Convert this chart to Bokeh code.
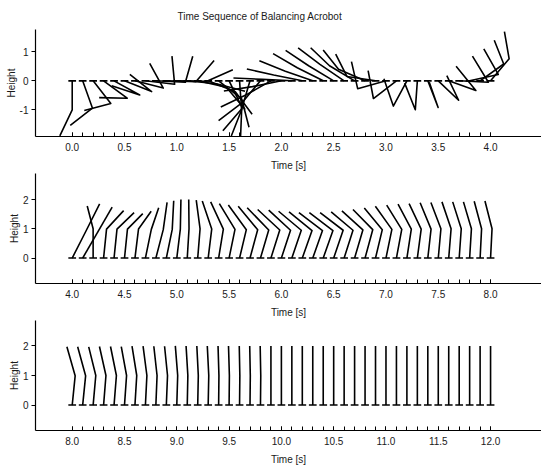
from bokeh.plotting import figure
from bokeh.layouts import column
from bokeh.models import FixedTicker, PrintfTickFormatter, Range1d
from bokeh.embed import file_html
from bokeh.resources import INLINE

# ---------------- data ----------------
# frame times (s)
t1 = [0.0, 0.1, 0.2, 0.3, 0.4, 0.5, 0.6, 0.7, 0.8, 0.9, 1.0, 1.1, 1.2, 1.3, 1.4, 1.5, 1.6, 1.7, 1.8, 1.9,
      2.0, 2.1, 2.2, 2.3, 2.4, 2.5, 2.6, 2.7, 2.8, 2.9, 3.0, 3.1, 3.2, 3.3, 3.4, 3.5, 3.6, 3.7, 3.8, 3.9, 4.0]
t2 = [4.0, 4.1, 4.2, 4.3, 4.4, 4.5, 4.6, 4.7, 4.8, 4.9, 5.0, 5.1, 5.2, 5.3, 5.4, 5.5, 5.6, 5.7, 5.8, 5.9,
      6.0, 6.1, 6.2, 6.3, 6.4, 6.5, 6.6, 6.7, 6.8, 6.9, 7.0, 7.1, 7.2, 7.3, 7.4, 7.5, 7.6, 7.7, 7.8, 7.9, 8.0]
t3 = [8.0, 8.1, 8.2, 8.3, 8.4, 8.5, 8.6, 8.7, 8.8, 8.9, 9.0, 9.1, 9.2, 9.3, 9.4, 9.5, 9.6, 9.7, 9.8, 9.9,
      10.0, 10.1, 10.2, 10.3, 10.4, 10.5, 10.6, 10.7, 10.8, 10.9, 11.0, 11.1, 11.2, 11.3, 11.4, 11.5, 11.6,
      11.7, 11.8, 11.9, 12.0]

# elbow / tip offsets from the pivot, in link lengths (horizontal, vertical)
elbow1_x = [0.00, 0.33, 0.60, 0.80, 0.87, 0.92, 0.96, 0.99, 1.00, 1.00, 1.00, 0.99, 0.97, 0.92, 0.78, 0.43,
            0.07, -0.28, -0.64, -0.87, -0.98, -1.00, -0.97, -0.93, -0.88, -0.85, -0.82, -0.85, -0.90, -0.97,
            -0.96, -0.78, -0.46, -0.07, 0.35, 0.69, 0.92, 0.99, 0.97, 0.80, 0.63]
elbow1_y = [-1.00, -0.94, -0.78, -0.60, -0.49, -0.37, -0.25, -0.12, -0.05, -0.03, -0.02, -0.10, -0.22, -0.38,
            -0.62, -0.90, -1.00, -0.96, -0.77, -0.50, -0.20, 0.05, 0.20, 0.33, 0.45, 0.52, 0.57, 0.52, 0.40,
            0.15, -0.27, -0.61, -0.87, -1.00, -0.92, -0.67, -0.33, -0.05, 0.22, 0.58, 0.76]
tip1_x = [-0.42, -0.42, -0.30, -0.15, -0.08, 0.18, 0.50, 0.90, 1.25, 1.62, 1.90, 1.96, 1.61, 1.49, 1.03, 0.39,
          -0.28, -0.92, -1.42, -1.70, -1.95, -1.98, -1.88, -1.81, -1.70, -1.63, -1.56, -1.49, -1.42, -1.35,
          -1.17, -0.96, -0.78, -0.43, 0.05, 0.29, 0.25, 0.45, 0.48, 0.48, 0.47]
tip1_y = [-1.90, -1.54, -1.02, -0.58, -0.17, 0.22, 0.60, 0.85, 0.85, 0.70, 0.38, -0.36, -0.99, -1.15, -1.60,
          -1.90, -1.90, -1.72, -1.37, -0.90, -0.35, 0.10, 0.41, 0.69, 0.94, 1.05, 1.14, 1.14, 1.06, 0.92,
          0.66, 0.35, 0.07, -0.08, -0.05, 0.18, 0.50, 0.85, 1.10, 1.40, 1.70]

elbow2_x = [0.45, 0.50, 0.00, 0.10, 0.10, 0.10, 0.12, 0.20, 0.25, 0.20, 0.12, 0.06, 0.08, 0.12, 0.16, 0.20,
            0.23, 0.26, 0.28, 0.30, 0.31, 0.32, 0.33, 0.33, 0.33, 0.32, 0.30, 0.28, 0.26, 0.23, 0.20, 0.18,
            0.15, 0.13, 0.11, 0.09, 0.08, 0.07, 0.06, 0.05, 0.05]
elbow2_y = [0.89, 0.87, 1.00, 0.99, 0.99, 0.99, 0.99, 0.98, 0.97, 0.98, 0.99, 1.00, 1.00, 0.99, 0.99, 0.98,
            0.97, 0.97, 0.96, 0.96, 0.95, 0.95, 0.94, 0.94, 0.94, 0.95, 0.95, 0.96, 0.97, 0.97, 0.98, 0.98,
            0.99, 0.99, 0.99, 1.00, 1.00, 1.00, 1.00, 1.00, 1.00]
tip2_x = [0.93, 1.00, -0.20, 0.68, 0.68, 0.62, 0.55, 0.45, 0.38, 0.25, 0.14, 0.05, -0.05, -0.20, -0.27, -0.33,
          -0.38, -0.40, -0.45, -0.45, -0.43, -0.45, -0.45, -0.47, -0.47, -0.46, -0.44, -0.43, -0.41, -0.38,
          -0.36, -0.33, -0.30, -0.28, -0.26, -0.25, -0.23, -0.22, -0.21, -0.20, -0.19]
tip2_y = [1.85, 1.74, 1.78, 1.62, 1.55, 1.52, 1.60, 1.72, 1.90, 1.96, 2.00, 2.00, 1.98, 1.95, 1.92, 1.86,
          1.81, 1.77, 1.72, 1.66, 1.64, 1.60, 1.58, 1.55, 1.55, 1.55, 1.58, 1.61, 1.66, 1.71, 1.77, 1.81,
          1.84, 1.86, 1.89, 1.90, 1.92, 1.92, 1.92, 1.94, 1.95]

elbow3_x = [0.10, 0.10, 0.09, 0.08, 0.08, 0.07, 0.06, 0.05, 0.04, 0.04, 0.03, 0.02, 0.02, 0.02, 0.01, 0.01,
            0.01, 0.01, 0.01, 0.00, 0.00, 0.00, 0.00, 0.00, 0.00, 0.00, 0.00, 0.00, 0.00, 0.00, 0.00, 0.00,
            0.00, 0.00, 0.00, 0.00, 0.00, 0.00, 0.00, 0.00, 0.00]
elbow3_y = [0.99, 0.99, 1.00, 1.00, 1.00, 1.00, 1.00, 1.00, 1.00, 1.00, 1.00, 1.00, 1.00, 1.00, 1.00, 1.00,
            1.00, 1.00, 1.00, 1.00, 1.00, 1.00, 1.00, 1.00, 1.00, 1.00, 1.00, 1.00, 1.00, 1.00, 1.00, 1.00,
            1.00, 1.00, 1.00, 1.00, 1.00, 1.00, 1.00, 1.00, 1.00]
tip3_x = [-0.18, -0.17, -0.15, -0.14, -0.12, -0.11, -0.10, -0.08, -0.07, -0.06, -0.05, -0.04, -0.03, -0.03,
          -0.02, -0.02, -0.01, -0.01, -0.01, 0.00, 0.00, 0.00, 0.00, 0.00, 0.00, 0.00, 0.00, 0.00, 0.00, 0.00,
          0.00, 0.00, 0.00, 0.00, 0.00, 0.00, 0.00, 0.00, 0.00, 0.00, 0.00]
tip3_y = [1.97, 1.97, 1.97, 1.98, 1.98, 1.98, 1.99, 1.99, 1.99, 1.99, 2.00, 2.00, 2.00, 2.00, 2.00, 2.00,
          2.00, 2.00, 2.00, 2.00, 2.00, 2.00, 2.00, 2.00, 2.00, 2.00, 2.00, 2.00, 2.00, 2.00, 2.00, 2.00,
          2.00, 2.00, 2.00, 2.00, 2.00, 2.00, 2.00, 2.00, 2.00]

x_major1 = [0.0, 0.5, 1.0, 1.5, 2.0, 2.5, 3.0, 3.5, 4.0]
x_major2 = [4.0, 4.5, 5.0, 5.5, 6.0, 6.5, 7.0, 7.5, 8.0]
x_major3 = [8.0, 8.5, 9.0, 9.5, 10.0, 10.5, 11.0, 11.5, 12.0]
y_ticks1 = [-1, 0, 1]
y_ticks23 = [0, 1, 2]

# ---------------- styling constants ----------------
SEC_PER_LINK = 0.282   # horizontal drawing scale: one link length in seconds
BASE_HALF = 0.037      # half width of the pivot mark (s)
FONT = "Liberation Sans"
TXT = "#1a1a1a"


def make_panel(times, ex, ey, tx, ty, majors, yticks, xr, yr, height, btop, bbot, title=None):
    p = figure(width=541, height=height, x_range=Range1d(*xr), y_range=Range1d(*yr),
               output_backend="svg", toolbar_location=None,
               min_border_left=35, min_border_right=0, min_border_top=btop, min_border_bottom=bbot)
    p.outline_line_color = None
    p.xgrid.visible = False
    p.ygrid.visible = False
    p.background_fill_color = "white"
    p.border_fill_color = "white"

    xs, ys = [], []
    for t, a, b, c, d in zip(times, ex, ey, tx, ty):
        xs.append([t, t + a * SEC_PER_LINK, t + c * SEC_PER_LINK])
        ys.append([0.0, b, d])
    p.multi_line(xs, ys, line_color="black", line_width=1.6, line_join="round")
    p.segment(x0=[t - BASE_HALF for t in times], x1=[t + BASE_HALF for t in times],
              y0=[0.0] * len(times), y1=[0.0] * len(times), line_color="black", line_width=1.6)

    xa = p.xaxis[0]
    xa.ticker = FixedTicker(ticks=majors, minor_ticks=list(times))
    xa.formatter = PrintfTickFormatter(format="%.1f")
    xa.major_tick_in = 4
    xa.major_tick_out = 0
    xa.minor_tick_in = 4
    xa.minor_tick_out = 0
    xa.axis_label = "Time [s]"
    xa.major_label_standoff = 6
    xa.axis_label_standoff = 6

    ya = p.yaxis[0]
    ya.ticker = FixedTicker(ticks=yticks, minor_ticks=[])
    ya.formatter = PrintfTickFormatter(format="%d")
    ya.major_tick_in = 0
    ya.major_tick_out = 4
    ya.minor_tick_in = 0
    ya.minor_tick_out = 0
    ya.axis_label = "Height"
    ya.major_label_standoff = 3
    ya.axis_label_standoff = 0

    for ax in (xa, ya):
        ax.axis_line_color = "black"
        ax.axis_line_width = 1.2
        ax.major_tick_line_color = "black"
        ax.minor_tick_line_color = "black"
        ax.major_label_text_font = FONT
        ax.major_label_text_font_size = "10px"
        ax.major_label_text_color = TXT
        ax.axis_label_text_font = FONT
        ax.axis_label_text_font_size = "10px"
        ax.axis_label_text_font_style = "normal"
        ax.axis_label_text_color = TXT

    if title:
        p.title.text = title
        p.title.align = "left"
        p.title.offset = 142
        p.title.standoff = 16
        p.title.text_line_height = 0.8
        p.title.text_font = FONT
        p.title.text_font_size = "10px"
        p.title.text_font_style = "normal"
        p.title.text_color = TXT
    return p


p1 = make_panel(t1, elbow1_x, elbow1_y, tip1_x, tip1_y, x_major1, y_ticks1,
                (-0.351, 4.487), (-1.92, 1.77), 173, 28, 36,
                title="Time Sequence of Balancing Acrobot")
p2 = make_panel(t2, elbow2_x, elbow2_y, tip2_x, tip2_y, x_major2, y_ticks23,
                (3.649, 8.487), (-0.87, 2.89), 147, 0, 36)
p3 = make_panel(t3, elbow3_x, elbow3_y, tip3_x, tip3_y, x_major3, y_ticks23,
                (7.649, 12.487), (-0.86, 2.86), 147, 0, 37)

layout = column(p1, p2, p3, spacing=0)
open("out.html", "w").write(file_html(layout, INLINE))
